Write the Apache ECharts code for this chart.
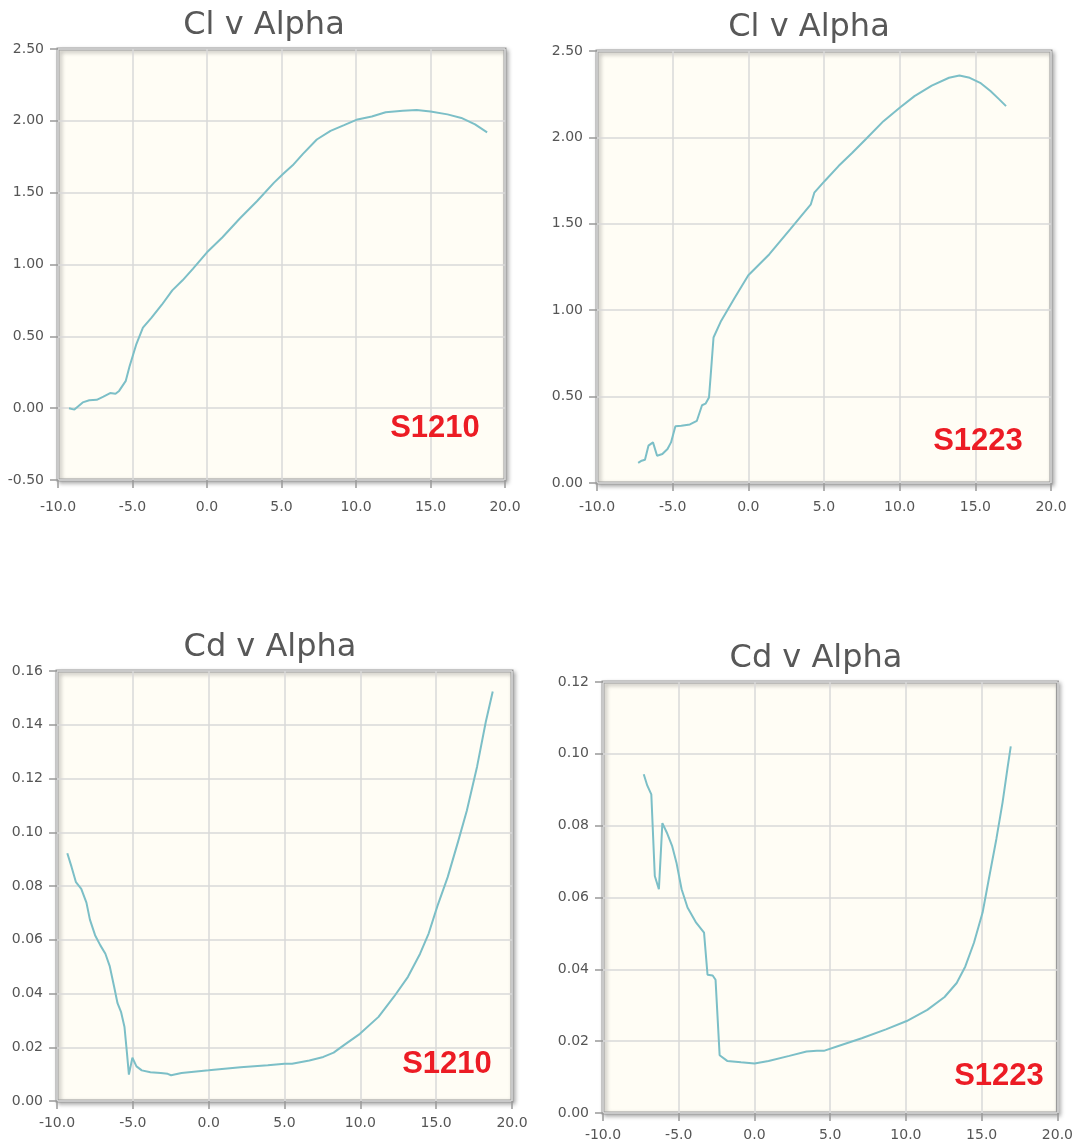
<!DOCTYPE html>
<html>
<head>
<meta charset="utf-8">
<script src="https://cdn.jsdelivr.net/npm/echarts@6/dist/echarts.min.js"></script>
<style>
html,body{margin:0;padding:0;background:#fff;}
#main{width:1076px;height:1146px;}
</style>
</head>
<body>
<div id="main"></div>
<script>
// ---- Data ----
const s1210ClAlpha = [-9.26,-8.9,-8.34,-7.9,-7.4,-6.95,-6.5,-6.14,-5.9,-5.45,-5.2,-4.76,-4.3,-3.72,-3.03,-2.33,-1.64,-0.95,0,1.04,2.2,3.35,4.5,5.1,5.75,6.44,7.37,8.29,9.2,10.1,11.06,11.99,13.14,14.07,15.0,16.14,17.07,17.99,18.8];
const s1210Cl      = [0.0,-0.01,0.04,0.055,0.058,0.08,0.105,0.10,0.12,0.19,0.29,0.44,0.56,0.63,0.72,0.82,0.89,0.97,1.085,1.19,1.32,1.44,1.57,1.63,1.69,1.77,1.87,1.93,1.97,2.01,2.03,2.06,2.07,2.075,2.065,2.045,2.02,1.975,1.92];

const s1223ClAlpha = [-7.28,-7.05,-6.83,-6.6,-6.3,-6.03,-5.68,-5.34,-5.11,-4.82,-4.43,-3.86,-3.4,-3.06,-2.83,-2.6,-2.49,-2.3,-1.8,-0.89,0.0,1.39,2.76,4.13,4.36,5.05,5.96,6.87,7.79,8.93,10.0,10.98,12.12,13.26,13.95,14.63,15.32,16.0,16.58,17.03];
const s1223Cl      = [0.116,0.129,0.135,0.216,0.235,0.158,0.168,0.197,0.235,0.328,0.331,0.339,0.36,0.45,0.459,0.495,0.62,0.842,0.938,1.073,1.202,1.324,1.468,1.613,1.68,1.748,1.834,1.911,1.992,2.094,2.172,2.239,2.30,2.345,2.358,2.345,2.316,2.268,2.22,2.181];

const s1210CdAlpha = [-9.32,-9.04,-8.75,-8.4,-8.06,-7.83,-7.49,-7.15,-6.81,-6.53,-6.24,-6.01,-5.78,-5.55,-5.39,-5.26,-5.03,-4.76,-4.41,-3.84,-3.16,-2.7,-2.48,-1.79,0,2.1,3.9,5.0,5.5,6.64,7.56,8.24,8.92,9.97,11.2,12.23,13.14,13.94,14.51,15.08,15.76,16.45,17.02,17.7,18.27,18.73];
const s1210Cd      = [0.0922,0.0871,0.0814,0.0789,0.0738,0.0675,0.0617,0.058,0.0548,0.0503,0.0427,0.0364,0.0332,0.0275,0.018,0.0098,0.0161,0.0129,0.0114,0.0107,0.0104,0.0101,0.0096,0.0104,0.0114,0.0126,0.0133,0.0139,0.0139,0.0151,0.0164,0.018,0.0208,0.025,0.0313,0.0389,0.0462,0.0548,0.0624,0.0725,0.0833,0.0966,0.108,0.1245,0.141,0.1524];

const s1223CdAlpha = [-7.31,-7.08,-6.81,-6.58,-6.31,-6.08,-5.79,-5.44,-5.15,-4.81,-4.42,-3.85,-3.33,-3.1,-2.76,-2.57,-2.3,-1.8,-0.89,0.0,0.93,2.3,3.44,4.12,4.58,5.49,7.08,8.68,10.05,11.41,12.55,13.35,13.92,14.49,15.06,15.51,15.97,16.38,16.7,16.92];
const s1223Cd      = [0.0943,0.0912,0.0887,0.066,0.0623,0.0807,0.0781,0.0744,0.0697,0.0623,0.0572,0.053,0.0502,0.0385,0.0383,0.0371,0.0161,0.0145,0.0141,0.0138,0.0145,0.0159,0.0171,0.0173,0.0173,0.0186,0.0208,0.0233,0.0256,0.0287,0.0323,0.0362,0.0408,0.0474,0.0558,0.066,0.0763,0.0865,0.0959,0.1021];

const chartTitles = ['Cl v Alpha','Cl v Alpha','Cd v Alpha','Cd v Alpha'];
const airfoilNames = ['S1210','S1223','S1210','S1223'];
const yRanges = [[-0.5,2.5,0.5,2],[0,2.5,0.5,2],[0,0.16,0.02,2],[0,0.12,0.02,2]];
const xRange = [-10,20,5];

// ---- Layout ----
const grids = [
  {left:58, top:49, width:447, height:431},
  {left:597, top:51, width:454, height:432},
  {left:57, top:671, width:455, height:430},
  {left:603, top:682, width:455, height:431}
];
const xLabelMargins = [20,17,15,15];
const titlePos = [[264,26],[809,28],[270,648],[816,659]];
const namePos = [[435,428],[978,441],[447,1064],[999,1076]];
const seriesData = [
  [s1210ClAlpha, s1210Cl],
  [s1223ClAlpha, s1223Cl],
  [s1210CdAlpha, s1210Cd],
  [s1223CdAlpha, s1223Cd]
];

const labelStyle = {color:'#555', fontSize:14, fontFamily:'DejaVu Sans'};
const splitStyle = {color:'#d9d9d9', width:1.5};
const tickStyle = {color:'#999', width:1.5};

const option = {
  animation:false,
  backgroundColor:'#ffffff',
  grid: grids.map(g => Object.assign({
    show:true, backgroundColor:'#FFFDF5', borderColor:'#9b9b9b', borderWidth:3,
    shadowColor:'rgba(0,0,0,0.28)', shadowBlur:4, shadowOffsetX:2, shadowOffsetY:2,
    containLabel:false
  }, g)),
  xAxis: grids.map((g,i) => ({
    type:'value', gridIndex:i, min:xRange[0], max:xRange[1], interval:xRange[2],
    position:'bottom',
    axisLine:{show:false, onZero:false},
    axisTick:{show:true, length:8, lineStyle:tickStyle},
    axisLabel:Object.assign({margin:xLabelMargins[i], formatter:v=>v.toFixed(1)}, labelStyle),
    splitLine:{show:true, lineStyle:splitStyle}
  })),
  yAxis: yRanges.map((r,i) => ({
    type:'value', gridIndex:i, min:r[0], max:r[1], interval:r[2],
    position:'left',
    axisLine:{show:false, onZero:false},
    axisTick:{show:true, length:8, lineStyle:tickStyle},
    axisLabel:Object.assign({margin:14, formatter:v=>v.toFixed(r[3])}, labelStyle),
    splitLine:{show:true, lineStyle:splitStyle}
  })),
  series: seriesData.map((d,i) => ({
    type:'line', xAxisIndex:i, yAxisIndex:i,
    data:d[0].map((a,k)=>[a,d[1][k]]),
    showSymbol:false, symbol:'none', smooth:false,
    lineStyle:{color:'#7cbfc7', width:2},
    z:5
  })),
  graphic: [
    ...chartTitles.map((t,i)=>({
      type:'text', x:titlePos[i][0], y:titlePos[i][1], z:10,
      style:{text:t, fill:'#585858', font:'32px "DejaVu Sans"', textAlign:'center', textVerticalAlign:'middle'}
    })),
    ...airfoilNames.map((t,i)=>({
      type:'text', x:namePos[i][0], y:namePos[i][1], z:10,
      style:{text:t, fill:'#EC1C24', font:'bold 31px "Liberation Sans"', textAlign:'center', textVerticalAlign:'middle'}
    }))
  ]
};

const chart = echarts.init(document.getElementById('main'), null, {renderer:'canvas'});
chart.setOption(option);
</script>
</body>
</html>
